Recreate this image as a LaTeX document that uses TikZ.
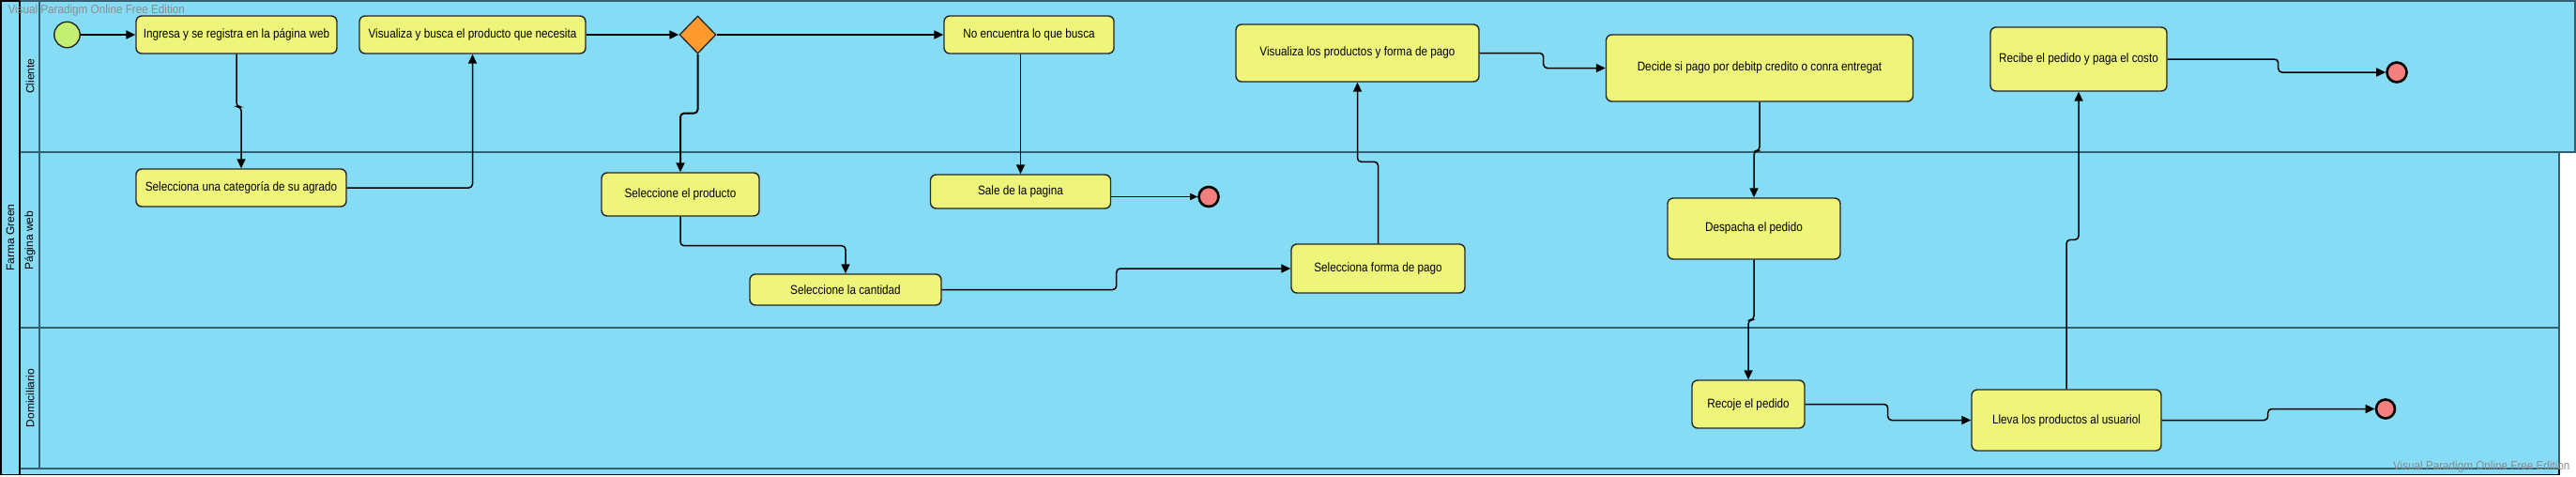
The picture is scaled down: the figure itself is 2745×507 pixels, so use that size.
\documentclass[tikz,border=0pt]{standalone}
\usepackage{fontspec}
\setmainfont{Liberation Sans}
\newfontfamily\boxfont[FakeStretch=0.87]{Liberation Sans}
\newfontfamily\wmfont[FakeStretch=0.9]{Liberation Sans}
\usetikzlibrary{shapes.geometric,arrows.meta}
\definecolor{laneblue}{HTML}{85DCF4}
\definecolor{laneline}{HTML}{335F70}
\definecolor{boxyellow}{HTML}{EFF57A}
\definecolor{startgreen}{HTML}{C3F073}
\definecolor{endred}{HTML}{F37F7F}
\definecolor{decorange}{HTML}{FF9A2E}
\tikzset{
  actbox/.style={draw=black!85, line width=1.4pt, rounded corners=6pt, fill=boxyellow,
    font=\boxfont\fontsize{13.5}{16}\selectfont, inner sep=0pt, align=center},
  startnode/.style={circle, draw=black!85, line width=1.4pt, fill=startgreen, minimum size=27.5pt, inner sep=0pt},
  endnode/.style={circle, draw=black, line width=2.6pt, fill=endred, minimum size=20pt, inner sep=0pt},
  decnode/.style={diamond, draw=black!85, line width=1.3pt, fill=decorange, minimum width=39pt, minimum height=40pt, inner sep=0pt},
  conn/.style={draw=black, line width=1.5pt, rounded corners=4pt, -{Triangle[length=10pt,width=9pt]}},
  lanelabel/.style={rotate=90, font=\fontsize{12}{14}\selectfont, text=black},
  watermark/.style={font=\wmfont\fontsize{13}{15}\selectfont, text=black!45}
}
\begin{document}
\begin{tikzpicture}[x=1pt,y=-1pt]
\useasboundingbox (0,0) rectangle (2745,507);
\fill[white] (0,0) rectangle (2745,507);
% pool
\draw[fill=laneblue, draw=black, line width=1.6pt] (0.8,0.8) rectangle (2727,505.5);
% lanes
\draw[fill=laneblue, draw=laneline, line width=2pt] (21,162) rectangle (2727,349);
\draw[fill=laneblue, draw=laneline, line width=2pt] (21,349) rectangle (2727,499);
\draw[fill=laneblue, draw=laneline, line width=2pt] (21,0.8) rectangle (2744,162);
\draw[draw=laneline, line width=2pt] (42,0.8) -- (42,499);
\draw[draw=black, line width=1.6pt] (21,0.8) -- (21,505.5);
\draw[draw=black, line width=1.6pt] (0.8,0.8) -- (21,0.8);
% labels
\node[lanelabel] (lpool) at (11,253) {Farma Green};
\node[lanelabel] (lcli) at (32,81) {Cliente};
\node[lanelabel] (lweb) at (32,256) {Página web};
\node[lanelabel] (ldom) at (32,424) {Domiciliario};
\node[watermark, anchor=west] (wm1) at (5,11) {Visual Paradigm Online Free Edition};
\node[watermark, anchor=east] (wm2) at (2742,497) {Visual Paradigm Online Free Edition};
% nodes
\node[startnode] (start) at (71.5,37) {};
\node[actbox, minimum width=214pt, minimum height=40pt] (ingresa) at (252,37) {Ingresa y se registra en la página web};
\node[actbox, minimum width=241pt, minimum height=40pt] (visbusca) at (503.5,37) {Visualiza y busca el producto que necesita};
\node[actbox, minimum width=224pt, minimum height=40pt] (categoria) at (257,200) {Selecciona una categoría de su agrado};
\node[decnode] (dec) at (743.5,37) {};
\node[actbox, minimum width=181pt, minimum height=40pt] (noenc) at (1096.5,37) {No encuentra lo que busca};
\node[actbox, minimum width=168pt, minimum height=46pt] (producto) at (725,207) {Seleccione el producto};
\node[actbox, minimum width=192pt, minimum height=36pt] (sale) at (1087.5,204) {Sale de la pagina};
\node[endnode, minimum size=21pt] (end1) at (1288,209.5) {};
\node[actbox, minimum width=204pt, minimum height=33pt] (cantidad) at (901,308.5) {Seleccione la cantidad};
\node[actbox, minimum width=185pt, minimum height=52pt] (formapago) at (1468.5,286) {Selecciona forma de pago};
\node[actbox, minimum width=259pt, minimum height=61pt] (visprod) at (1446.5,56.5) {Visualiza los productos y forma de pago};
\node[actbox, minimum width=327pt, minimum height=71pt] (decide) at (1875,72.5) {Decide si pago por debitp credito o conra entregat};
\node[actbox, minimum width=184pt, minimum height=65pt] (despacha) at (1869,243.5) {Despacha el pedido};
\node[actbox, minimum width=120pt, minimum height=51pt] (recoje) at (1863,430.5) {Recoje el pedido};
\node[actbox, minimum width=202pt, minimum height=65pt] (lleva) at (2202,447.5) {Lleva los productos al usuariol};
\node[endnode] (end3) at (2542,435.5) {};
\node[actbox, minimum width=188pt, minimum height=68pt] (recibe) at (2215,63) {Recibe el pedido y paga el costo};
\node[endnode, minimum size=21pt] (end2) at (2554,77) {};
% connectors
\draw[conn, line width=2pt] (start) -- (ingresa);
\draw[conn] (ingresa.south) -- ++(0,56) -| (categoria.north);
\draw[conn] (categoria.east) -| (visbusca.south);
\draw[conn, line width=2pt] (visbusca.east) -- (dec.west);
\draw[conn, line width=2pt] (dec.east) -- (noenc.west);
\draw[conn, line width=2pt] (dec.south) -- ++(0,63) -| (producto.north);
\draw[conn] (sale.north |- noenc.south) -- (sale.north);
\draw[conn, -{Triangle[length=8pt,width=7pt]}] (sale.east |- end1) -- (end1);
\draw[conn] (producto.south) -- ++(0,31) -| (cantidad.north);
\draw[conn] (cantidad.east) -- ++(186,0) |- (formapago.west);
\draw[conn] (formapago.north) -- ++(0,-87) -| (visprod.south);
\draw[conn] (visprod.east) -- ++(68,0) |- (decide.west);
\draw[conn] (decide.south) -- ++(0,52) -| (despacha.north);
\draw[conn] (despacha.south) -- ++(0,64) -| (recoje.north);
\draw[conn] (recoje.east) -- ++(88,0) |- (lleva.west);
\draw[conn] (lleva.east) -- ++(113,0) |- (end3);
\draw[conn] (lleva.north) -- ++(0,-159) -| (recibe.south);
\draw[conn] (recibe.east) -- ++(118,0) |- (end2);
\end{tikzpicture}
\end{document}
